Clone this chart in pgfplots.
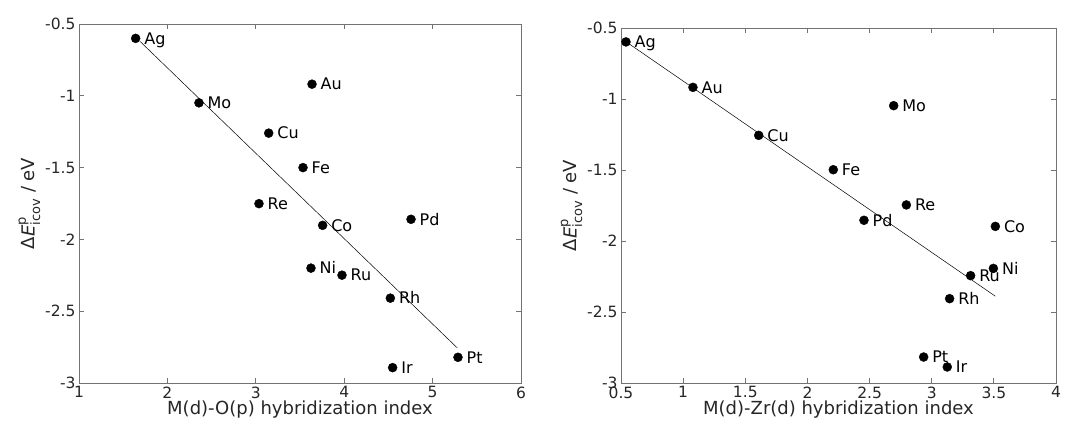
\documentclass[border=0pt]{standalone}
\usepackage{pgfplots}
\pgfplotsset{compat=1.18}
\usepackage{fontspec}
\setmainfont{DejaVu Sans}

\pgfplotstableread{
x y label
1.641 -0.600 Ag
2.357 -1.049 Mo
3.636 -0.919 Au
3.146 -1.260 Cu
3.534 -1.500 Fe
3.036 -1.751 Re
3.756 -1.902 Co
4.756 -1.860 Pd
3.624 -2.200 Ni
3.975 -2.249 Ru
4.522 -2.409 Rh
5.287 -2.821 Pt
4.548 -2.893 Ir
}\leftdata

\pgfplotstableread{
x y label
0.540 -0.598 Ag
1.079 -0.918 Au
1.608 -1.256 Cu
2.694 -1.047 Mo
2.208 -1.498 Fe
2.796 -1.746 Re
2.455 -1.854 Pd
3.512 -1.897 Co
3.496 -2.193 Ni
3.313 -2.244 Ru
3.144 -2.406 Rh
2.935 -2.817 Pt
3.125 -2.887 Ir
}\rightdata

\pgfplotsset{
  myax/.style={
    scale only axis, clip=false,
    axis line style={black!55, line width=0.8pt},
    tick style={black!55, line width=0.8pt},
    major tick length=5pt,
    tick align=inside,
    ymin=-3, ymax=-0.5, ytick={-3,-2.5,...,-0.5},
    /pgf/number format/assume math mode=true,
    ticklabel style={font=\fontsize{15.5}{17}\selectfont, text=black!85},
    label style={font=\fontsize{18}{20}\selectfont, text=black!85},
    xlabel style={yshift=4pt},
    ylabel style={yshift=-2pt},
    ylabel={Δ\textit{E}$^{\mbox{\fontsize{13}{14}\selectfont p}}_{\mbox{\fontsize{13}{14}\selectfont icov}}$ / eV},
  },
  pts/.style={only marks, mark=*, mark size=4.5pt, black,
    point meta=explicit symbolic, nodes near coords,
    every node near coord/.style={anchor=base west, inner xsep=0pt,
      font=\fontsize{16}{18}\selectfont, text=black, xshift=8.5pt, yshift=-5.8pt}},
}

\begin{document}
\begin{tikzpicture}
\path[use as bounding box] (0,0) rectangle (1075pt,429pt);
\begin{axis}[myax, at={(79pt,46pt)}, anchor=south west,
  width=442pt, height=359pt,
  xmin=1, xmax=6, xtick={1,2,3,4,5,6},
  xlabel={M(d)-O(p) hybridization index}]
\addplot[black, line width=0.5pt] coordinates {(1.69,-0.621) (5.28,-2.756)};
\addplot[pts] table[x=x, y=y, meta=label] {\leftdata};
\end{axis}
\begin{axis}[myax, at={(621pt,46pt)}, anchor=south west,
  width=435pt, height=355pt,
  xmin=0.5, xmax=4, xtick={0.5,1,...,4},
  xlabel={M(d)-Zr(d) hybridization index}]
\addplot[black, line width=0.5pt] coordinates {(0.546,-0.60) (3.512,-2.389)};
\addplot[pts] table[x=x, y=y, meta=label] {\rightdata};
\end{axis}
\end{tikzpicture}
\end{document}
